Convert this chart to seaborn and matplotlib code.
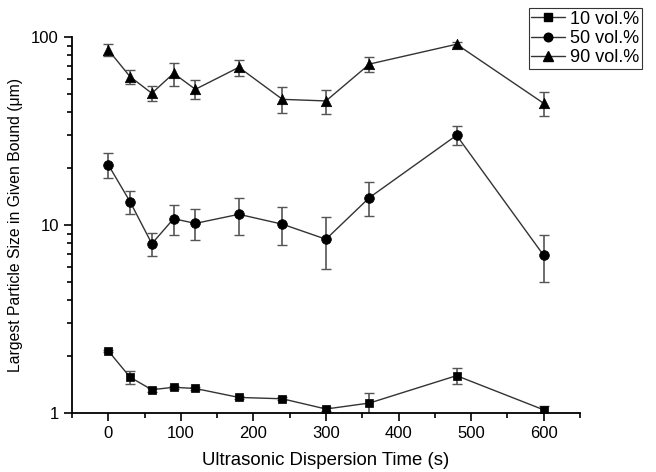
import numpy as np
import pandas as pd
import matplotlib
matplotlib.use('Agg')
import matplotlib.pyplot as plt
import seaborn as sns
from matplotlib.lines import Line2D
from matplotlib.ticker import MultipleLocator, LogLocator, NullFormatter, FixedLocator, FixedFormatter

# time points (s)
times = [0, 30, 60, 90, 120, 180, 240, 300, 360, 480, 600]

# largest particle size (um) per bound
size_10 = [2.14, 1.55, 1.33, 1.37, 1.35, 1.21, 1.19, 1.05, 1.13, 1.58, 1.04]
size_50 = [20.9, 13.3, 7.95, 10.8, 10.2, 11.4, 10.1, 8.4, 14.0, 30.0, 6.9]
size_90 = [85.3, 61.5, 50.2, 64.1, 52.7, 69.0, 46.6, 45.7, 71.8, 91.5, 44.4]

# error bars (half width)
err_10 = [0.03, 0.13, 0.03, 0.03, 0.03, 0.02, 0.02, 0.02, 0.14, 0.15, 0.05]
err_50 = [3.2, 1.9, 1.15, 2.0, 1.9, 2.5, 2.3, 2.6, 2.9, 3.5, 1.9]
err_90 = [6.5, 5.6, 4.8, 8.9, 6.1, 6.9, 7.4, 6.6, 6.4, 2.5, 6.4]

labels = ['10 vol.%', '50 vol.%', '90 vol.%']
marker_list = ['s', 'o', '^']
marker_sizes = {'s': 6.2, 'o': 7.0, '^': 7.5}

sns.set_style('ticks')
plt.rcParams['font.family'] = ['Liberation Sans', 'DejaVu Sans']
plt.rcParams['text.color'] = 'black'
plt.rcParams['axes.labelcolor'] = 'black'
plt.rcParams['xtick.color'] = 'black'
plt.rcParams['ytick.color'] = 'black'

rows = []
for lab, vals, errs in zip(labels, [size_10, size_50, size_90], [err_10, err_50, err_90]):
    for t, v, e in zip(times, vals, errs):
        rows.append({'time': t, 'size': v, 'err': e, 'series': lab})
df = pd.DataFrame(rows)

fig = plt.figure(figsize=(6.56, 4.72), dpi=100)
ax = fig.add_axes([0.1098, 0.125, 0.884 - 0.1098, 0.9216 - 0.125])

for lab in labels:
    d = df[df['series'] == lab]
    ax.errorbar(d['time'], d['size'], yerr=d['err'], fmt='none', ecolor='#555555',
                elinewidth=1.2, capsize=3.5, capthick=1, zorder=2)

# connecting lines
sns.lineplot(data=df, x='time', y='size', units='series', estimator=None,
             color='#333333', lw=1, legend=False, ax=ax, zorder=3)
# markers
for lab, m in zip(labels, marker_list):
    d = df[df['series'] == lab]
    sns.scatterplot(data=d, x='time', y='size', marker=m, color='black',
                    s=marker_sizes[m] ** 2, edgecolor='black', linewidth=0.5,
                    legend=False, ax=ax, zorder=4)

ax.set_yscale('log')
ax.set_xlim(-50, 650)
ax.set_ylim(1, 100)
ax.xaxis.set_major_locator(MultipleLocator(100))
ax.xaxis.set_minor_locator(MultipleLocator(50))
ax.yaxis.set_major_locator(FixedLocator([1, 10, 100]))
ax.yaxis.set_major_formatter(FixedFormatter(['1', '10', '100']))
ax.yaxis.set_minor_locator(LogLocator(base=10, subs=np.arange(2, 10)))
ax.yaxis.set_minor_formatter(NullFormatter())
ax.tick_params(axis='both', which='major', direction='out', length=6, width=1.2, labelsize=12, color='black')
ax.tick_params(axis='both', which='minor', direction='out', length=3.5, width=1.2, color='black')
for s in ['left', 'bottom']:
    ax.spines[s].set_linewidth(1.3)
    ax.spines[s].set_color('black')
sns.despine(ax=ax)

ax.set_xlabel('Ultrasonic Dispersion Time (s)', fontsize=13.4, labelpad=8)
ax.set_ylabel('Largest Particle Size in Given Bound (\u03bcm)', fontsize=11.3, labelpad=6)

handles = [Line2D([], [], color='#333333', lw=1, marker=m, markersize=marker_sizes[m] - 0.8,
                  mfc='black', mec='black') for m in marker_list]
leg = fig.legend(handles, labels, loc='upper right', bbox_to_anchor=(0.9787, 0.983), fontsize=13,
                 frameon=True, fancybox=False, edgecolor='black', handlelength=1.85,
                 borderpad=0.15, labelspacing=0.12, handletextpad=0.3, borderaxespad=0)
leg.get_frame().set_linewidth(0.8)

fig.savefig('out.png', dpi=100)
